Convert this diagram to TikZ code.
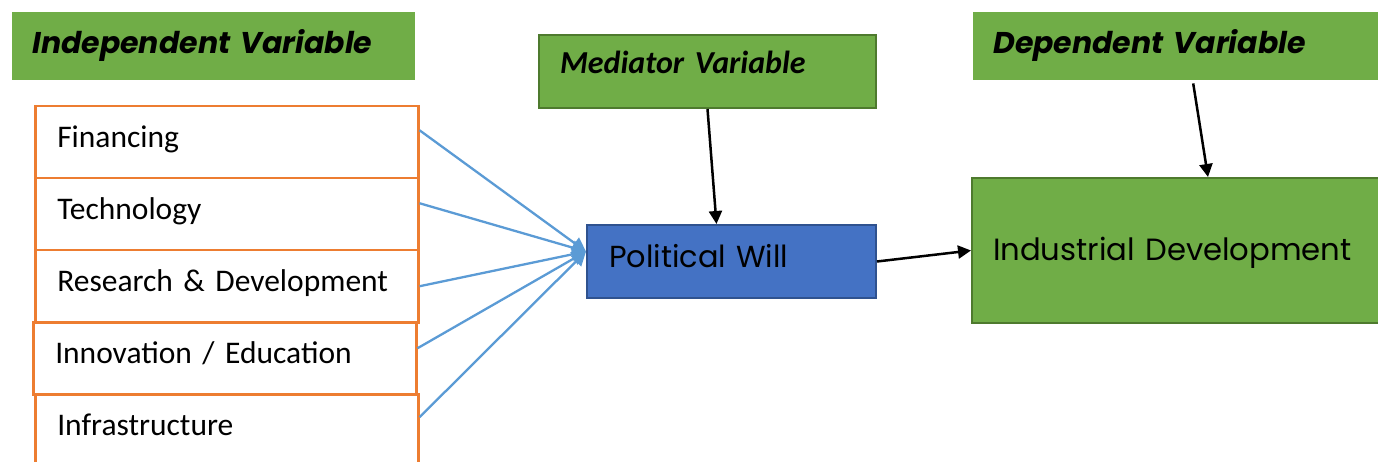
\documentclass[tikz,border=0pt]{standalone}
\usepackage{fontspec}
\usepackage{tikz}
\usetikzlibrary{arrows.meta}
\newfontfamily\geofont{Poppins}
\newfontfamily\calfont{Carlito}
\definecolor{boxgreen}{HTML}{70AD47}
\definecolor{darkgreen}{HTML}{4E7A2E}
\definecolor{pwblue}{HTML}{4472C4}
\definecolor{pwborder}{HTML}{2F528F}
\definecolor{itemorange}{HTML}{ED7D31}
\definecolor{feedblue}{HTML}{5B9BD5}

\begin{document}
\begin{tikzpicture}[x=1pt,y=-1pt,
  every node/.style={anchor=north west,inner ysep=0pt},
  hdr/.style={fill=boxgreen,minimum height=68pt,inner xsep=20pt,text height=26pt,text depth=11.4pt,font=\geofont\bfseries\itshape\fontsize{30}{34}\selectfont},
  item/.style={draw=itemorange,line width=2.5pt,fill=white,minimum height=72pt,text width=339pt,inner xsep=22pt,text height=22pt,text depth=12pt,font=\calfont\fontsize{31.5}{36}\selectfont},
  feed/.style={draw=feedblue,line width=2.3pt,-{Triangle[length=14pt,width=14pt]}},
  link/.style={draw=black,line width=2.5pt,-{Triangle[length=13pt,width=13pt]}}]
  \useasboundingbox (0,0) rectangle (1378,462);
  % headers
  \node[hdr,text width=363pt] (iv) at (12,12) {Independent Variable};
  \node[hdr,text width=380pt] (dv) at (973,12) {Dependent Variable};
  \node[hdr,draw=darkgreen,line width=2pt,minimum height=73pt,inner xsep=21pt,text width=295pt,text height=22pt,text depth=17pt,font=\calfont\bfseries\itshape\fontsize{32}{36}\selectfont] (mv) at (538,34) {Mediator Variable};
  % independent items
  \node[item] (fin) at (34,105) {Financing};
  \node[item] (tech) at (34,177) {Technology};
  \node[item] (rd) at (34,249) {Research \& Development};
  \node[item] (inno) at (32,321) {Innovation / Education};
  \node[item] (infra) at (34,393) {Infrastructure};
  % mediator and outcome
  \node[fill=pwblue,draw=pwborder,line width=2pt,minimum height=73pt,inner xsep=22pt,text width=245pt,text height=24pt,text depth=11pt,font=\geofont\fontsize{30.4}{34}\selectfont] (pw) at (586,224) {Political Will};
  \node[fill=boxgreen,draw=darkgreen,line width=2pt,minimum height=145pt,inner xsep=21pt,text width=390pt,text height=28pt,text depth=7pt,font=\geofont\fontsize{30.7}{34}\selectfont] (ind) at (971,177) {Industrial Development};
  \coordinate (pwin) at ([yshift=10pt]pw.west);
  \draw[feed] ([yshift=12pt]fin.east) -- (pwin);
  \draw[feed] ([yshift=11pt]tech.east) -- (pwin);
  \draw[feed] (rd.east) -- (pwin);
  \draw[feed] ([yshift=10pt]inno.east) -- (pwin);
  \draw[feed] ([yshift=13pt]infra.east) -- (pwin);
  \draw[link] (mv.south) -- ([xshift=-15pt]pw.north);
  \draw[link] ([xshift=10pt,yshift=-3pt]dv.south) -- ([xshift=20pt]ind.north);
  \draw[link] (pw.east) -- (ind.west);
\end{tikzpicture}
\end{document}
